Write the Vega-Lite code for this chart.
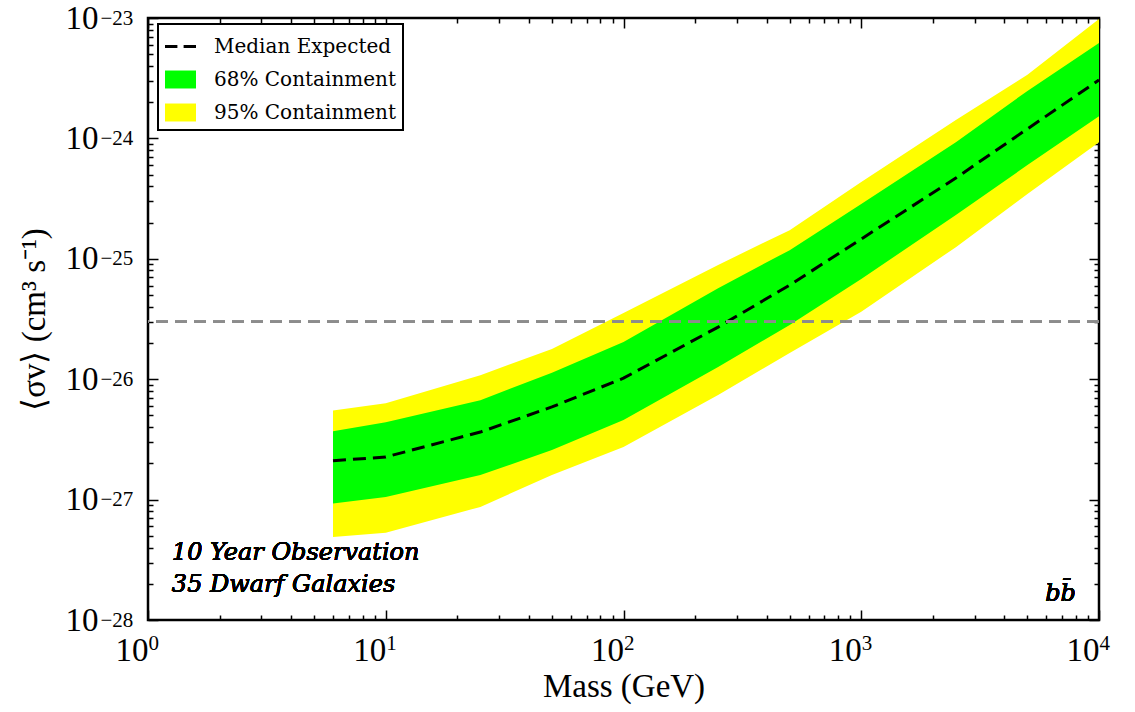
{
  "$schema": "https://vega.github.io/schema/vega-lite/v6.json",
  "autosize": "none",
  "width": 951,
  "height": 602,
  "padding": {"left": 148, "top": 18, "right": 36, "bottom": 92},
  "background": "white",
  "config": {
    "font": "Liberation Serif",
    "view": {"stroke": "black", "strokeWidth": 2.5},
    "axis": {"grid": false, "domain": false, "labelColor": "black", "titleColor": "black", "tickColor": "black", "labelFlush": false, "labelOverlap": false, "titleFontWeight": "normal"},
    "legend": {"labelFont": "DejaVu Serif", "labelFontSize": 20, "labelLimit": 0, "labelColor": "black", "strokeWidth": 2}
  },
  "data": {
    "values": [
      {"m": 6, "median": 2.1e-27, "lo68": 9.3e-28, "hi68": 3.7e-27, "lo95": 4.9e-28, "hi95": 5.5e-27},
      {"m": 10, "median": 2.26e-27, "lo68": 1.05e-27, "hi68": 4.4e-27, "lo95": 5.3e-28, "hi95": 6.3e-27},
      {"m": 25, "median": 3.64e-27, "lo68": 1.6e-27, "hi68": 6.7e-27, "lo95": 8.7e-28, "hi95": 1.08e-26},
      {"m": 50, "median": 5.88e-27, "lo68": 2.58e-27, "hi68": 1.13e-26, "lo95": 1.6e-27, "hi95": 1.78e-26},
      {"m": 100, "median": 1.02e-26, "lo68": 4.58e-27, "hi68": 2.04e-26, "lo95": 2.73e-27, "hi95": 3.55e-26},
      {"m": 250, "median": 2.71e-26, "lo68": 1.26e-26, "hi68": 5.7e-26, "lo95": 7.4e-27, "hi95": 8.9e-26},
      {"m": 500, "median": 6.05e-26, "lo68": 2.82e-26, "hi68": 1.18e-25, "lo95": 1.65e-26, "hi95": 1.73e-25},
      {"m": 1000, "median": 1.46e-25, "lo68": 6.8e-26, "hi68": 2.85e-25, "lo95": 3.63e-26, "hi95": 4.35e-25},
      {"m": 2500, "median": 4.69e-25, "lo68": 2.31e-25, "hi68": 9.3e-25, "lo95": 1.25e-25, "hi95": 1.42e-24},
      {"m": 5000, "median": 1.2e-24, "lo68": 6.0e-25, "hi68": 2.48e-24, "lo95": 3.45e-25, "hi95": 3.37e-24},
      {"m": 10000, "median": 3.05e-24, "lo68": 1.53e-24, "hi68": 6.2e-24, "lo95": 9.3e-25, "hi95": 9.8e-24}
    ]
  },
  "layer": [
    {
      "mark": {"type": "area", "opacity": 1},
      "encoding": {
        "x": {"field": "m", "type": "quantitative",
          "scale": {"type": "log", "domain": [1, 10000], "nice": false},
          "axis": {"orient": "bottom", "values": [1, 10, 100, 1000, 10000], "labelExpr": "'10'", "ticks": false,
            "labelFontSize": 33, "labelAlign": "right", "labelDx": 10, "labelPadding": 14, "labelBaseline": "top",
            "title": "Mass (GeV)", "titleFontSize": 33, "titlePadding": 3}},
        "y": {"field": "lo95", "type": "quantitative",
          "scale": {"type": "log", "domain": [1e-28, 1e-23], "nice": false},
          "axis": {"orient": "left", "values": [1e-28, 1e-27, 1e-26, 1e-25, 1e-24, 1e-23], "labelExpr": "'10'", "ticks": false,
            "labelFontSize": 33, "labelAlign": "right", "labelPadding": 50, "labelBaseline": "middle",
            "title": "⟨σv⟩ (cm³ s⁻¹)", "titleFontSize": 33, "titlePadding": 14}},
        "y2": {"field": "hi95"},
        "color": {"datum": "95% Containment", "type": "nominal",
          "scale": {"domain": ["Median Expected", "68% Containment", "95% Containment"], "range": ["#000000", "#00ff00", "#ffff00"]},
          "legend": {"orient": "none", "legendX": 10, "legendY": 6, "title": null,
            "labelFont": "DejaVu Serif", "labelFontSize": 20, "labelLimit": 0, "labelColor": "black", "labelOffset": 18,
            "symbolSize": 961, "symbolStrokeWidth": 0, "symbolOpacity": 1, "padding": 7, "rowPadding": 7,
            "strokeColor": "black", "fillColor": "white"}}
      }
    },
    {
      "mark": {"type": "area", "opacity": 1},
      "encoding": {
        "x": {"field": "m", "type": "quantitative",
          "axis": {"orient": "bottom", "values": [1, 10, 100, 1000, 10000], "labelExpr": "'' + round(log(datum.value)/LN10)", "ticks": false,
            "labelFontSize": 21, "labelAlign": "left", "labelDx": 10, "labelPadding": 12, "labelBaseline": "top", "title": null}},
        "y": {"field": "lo68", "type": "quantitative",
          "axis": {"orient": "left", "values": [1e-28, 1e-27, 1e-26, 1e-25, 1e-24, 1e-23], "labelExpr": "replace('' + round(log(datum.value)/LN10), '-', '−')", "ticks": false,
            "labelFontSize": 21, "labelAlign": "left", "labelPadding": 48, "labelDy": -11, "labelBaseline": "middle", "title": null}},
        "y2": {"field": "hi68"},
        "color": {"datum": "68% Containment", "type": "nominal"}
      }
    },
    {
      "mark": {"type": "line", "strokeDash": [13, 7], "strokeWidth": 3},
      "encoding": {
        "x": {"field": "m", "type": "quantitative",
          "axis": {"orient": "bottom", "labels": false, "title": null, "tickWidth": 1.5,
            "values": [1,2,3,4,5,6,7,8,9,10,20,30,40,50,60,70,80,90,100,200,300,400,500,600,700,800,900,1000,2000,3000,4000,5000,6000,7000,8000,9000,10000],
            "tickSize": {"condition": {"test": "abs(log(datum.value)/LN10 - round(log(datum.value)/LN10)) < 0.001", "value": -10}, "value": -5}}},
        "y": {"field": "median", "type": "quantitative",
          "axis": {"orient": "left", "labels": false, "title": null, "tickWidth": 1.5,
            "values": [1e-28,2e-28,3e-28,4e-28,5e-28,6e-28,7e-28,8e-28,9e-28,1e-27,2e-27,3e-27,4e-27,5e-27,6e-27,7e-27,8e-27,9e-27,1e-26,2e-26,3e-26,4e-26,5e-26,6e-26,7e-26,8e-26,9e-26,1e-25,2e-25,3e-25,4e-25,5e-25,6e-25,7e-25,8e-25,9e-25,1e-24,2e-24,3e-24,4e-24,5e-24,6e-24,7e-24,8e-24,9e-24,1e-23],
            "tickSize": {"condition": {"test": "abs(log(datum.value)/LN10 - round(log(datum.value)/LN10)) < 0.001", "value": -10}, "value": -5}}},
        "color": {"datum": "Median Expected", "type": "nominal"}
      }
    },
    {
      "mark": {"type": "point", "opacity": 0, "size": 1},
      "encoding": {
        "x": {"field": "m", "type": "quantitative", "axis": null},
        "y": {"field": "median", "type": "quantitative", "axis": null},
        "shape": {"datum": "Median Expected", "type": "nominal",
          "scale": {"domain": ["Median Expected", "68% Containment", "95% Containment"],
            "range": ["M-1,-0.1H-0.2V0.1H-1Z M0.2,-0.1H1V0.1H0.2Z", "M-1,-0.58H1V0.58H-1Z", "M-1,-0.58H1V0.58H-1Z"]},
          "legend": {"orient": "none", "legendX": 10, "legendY": 6, "title": null,
            "labelFont": "DejaVu Serif", "labelFontSize": 20, "labelLimit": 0, "labelColor": "black", "labelOffset": 18,
            "symbolSize": 961, "symbolStrokeWidth": 0, "symbolOpacity": 1, "padding": 7, "rowPadding": 7,
            "strokeColor": "black", "fillColor": "white"}}
      }
    },
    {
      "mark": {"type": "rule", "stroke": "#8c8c8c", "strokeDash": [12, 7], "strokeWidth": 2},
      "encoding": {
        "y": {"datum": 3e-26, "type": "quantitative", "axis": null}
      }
    },
    {
      "mark": {"type": "text", "align": "left", "baseline": "alphabetic", "font": "DejaVu Serif", "fontStyle": "italic", "fontSize": 24, "lineHeight": 32, "color": "black",
        "text": ["10 Year Observation", "35 Dwarf Galaxies"]},
      "encoding": {
        "x": {"datum": 1.26, "type": "quantitative",
          "axis": {"orient": "top", "labels": false, "title": null, "tickWidth": 1.5,
            "values": [1,2,3,4,5,6,7,8,9,10,20,30,40,50,60,70,80,90,100,200,300,400,500,600,700,800,900,1000,2000,3000,4000,5000,6000,7000,8000,9000,10000],
            "tickSize": {"condition": {"test": "abs(log(datum.value)/LN10 - round(log(datum.value)/LN10)) < 0.001", "value": -10}, "value": -5}}},
        "y": {"datum": 3.15e-28, "type": "quantitative",
          "axis": {"orient": "right", "labels": false, "title": null, "tickWidth": 1.5,
            "values": [1e-28,2e-28,3e-28,4e-28,5e-28,6e-28,7e-28,8e-28,9e-28,1e-27,2e-27,3e-27,4e-27,5e-27,6e-27,7e-27,8e-27,9e-27,1e-26,2e-26,3e-26,4e-26,5e-26,6e-26,7e-26,8e-26,9e-26,1e-25,2e-25,3e-25,4e-25,5e-25,6e-25,7e-25,8e-25,9e-25,1e-24,2e-24,3e-24,4e-24,5e-24,6e-24,7e-24,8e-24,9e-24,1e-23],
            "tickSize": {"condition": {"test": "abs(log(datum.value)/LN10 - round(log(datum.value)/LN10)) < 0.001", "value": -10}, "value": -5}}}
      }
    },
    {
      "mark": {"type": "text", "align": "right", "baseline": "alphabetic", "font": "DejaVu Serif", "fontStyle": "italic", "fontSize": 24, "color": "black", "text": "bb̄"},
      "encoding": {
        "x": {"datum": 8000, "type": "quantitative", "axis": null},
        "y": {"datum": 1.44e-28, "type": "quantitative", "axis": null}
      }
    }
  ],
  "resolve": {"axis": {"x": "independent", "y": "independent"}}
}
